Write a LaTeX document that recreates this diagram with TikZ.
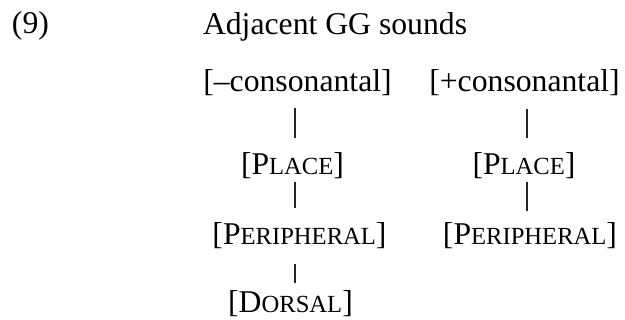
\documentclass[tikz,border=0pt]{standalone}
\usepackage{fontspec}
\setmainfont{Liberation Serif}
\newcommand{\bigf}{\fontsize{31.7}{38}\selectfont}
\newcommand{\smf}{\fontsize{24.6}{30}\selectfont}
\newcommand{\fsc}[2]{#1{\smf #2}}
\begin{document}
\begin{tikzpicture}[x=1pt,y=-1pt,
  lbl/.style={inner sep=0pt, outer sep=0pt, anchor=base, font=\bigf, text height=22pt, text depth=6pt},
  branch/.style={line width=1.6pt, draw=black!85}]
\useasboundingbox (0,0) rectangle (625,320);
\node[lbl, anchor=base west] (num) at (12,34) {(9)};
\node[lbl, anchor=base west] (title) at (203,35) {Adjacent GG sounds};
% left column
\node[lbl] (lcons) at (297.5,92) {[–consonantal]};
\node[lbl] (lplace) at (292.5,174.5) {[\fsc{P}{LACE}]};
\node[lbl] (lper) at (299.5,244.5) {[\fsc{P}{ERIPHERAL}]};
\node[lbl] (ldor) at (290.5,313) {[\fsc{D}{ORSAL}]};
% right column
\node[lbl] (rcons) at (524.5,92) {[+consonantal]};
\node[lbl] (rplace) at (524,174.5) {[\fsc{P}{LACE}]};
\node[lbl] (rper) at (530,244.5) {[\fsc{P}{ERIPHERAL}]};
\coordinate (colL) at (295,0);
\coordinate (colR) at (527,0);
\draw[branch, shorten <=10pt, shorten >=14.5pt] (lcons.south -| colL) -- (lplace.north -| colL);
\draw[branch, shorten <=1.5pt, shorten >=14.5pt] (lplace.south -| colL) -- (lper.north -| colL);
\draw[branch, shorten <=13.5pt, shorten >=8pt] (lper.south -| colL) -- (ldor.north -| colL);
\draw[branch, shorten <=11pt, shorten >=14.5pt] (rcons.south -| colR) -- (rplace.north -| colR);
\draw[branch, shorten <=1.5pt, shorten >=11.5pt] (rplace.south -| colR) -- (rper.north -| colR);
\end{tikzpicture}
\end{document}
